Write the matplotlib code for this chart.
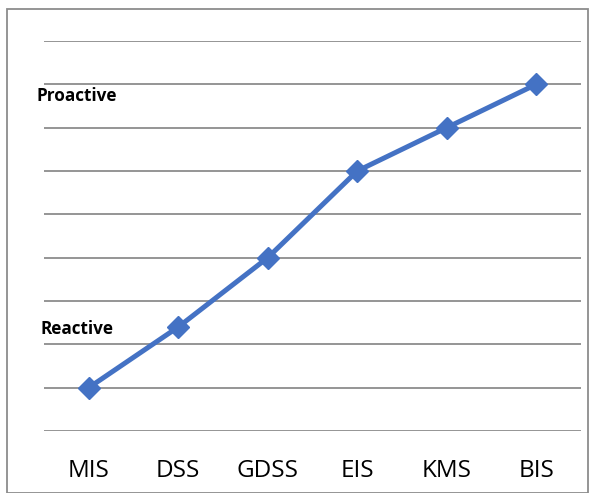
import matplotlib
matplotlib.use("Agg")
import matplotlib.pyplot as plt
from matplotlib.patches import Rectangle

categories = ["MIS", "DSS", "GDSS", "EIS", "KMS", "BIS"]
values = [1, 2.4, 4, 6, 7, 8]
annotations = [("Proactive", 7.7), ("Reactive", 2.35)]

W, H = 589, 493
fig = plt.figure(figsize=(W/100, H/100), dpi=100)
ax = fig.add_axes([44/W, 62/H, (581-44)/W, (452-62)/H])
ax.set_xlim(-0.5, 5.5)
ax.set_ylim(0, 9)
for y in range(0, 10):
    ax.axhline(y, color="#8c8c8c", lw=1.3, zorder=1)
ax.plot(range(len(categories)), values, color="#4472C4", lw=3.6,
        marker="D", markersize=11, zorder=3, clip_on=False)
ax.set_xticks(range(len(categories)))
ax.set_xticklabels(categories, fontsize=17.5, family="Open Sans")
ax.tick_params(axis="x", length=0, pad=20)
ax.set_yticks([])
for s in ax.spines.values():
    s.set_visible(False)

fig.text(36/W, 1-96/H, annotations[0][0], fontsize=12.3, fontweight="bold",
         family="Open Sans", va="center", ha="left")
fig.text(40/W, 1-329/H, annotations[1][0], fontsize=12.3, fontweight="bold",
         family="Open Sans", va="center", ha="left")

fig.patches.append(Rectangle((6.5/W, 0), (588-6.5)/W, 1-8.5/H, transform=fig.transFigure,
                             fill=False, edgecolor="#8c8c8c", lw=1.3))
fig.savefig("out.png", dpi=100)
